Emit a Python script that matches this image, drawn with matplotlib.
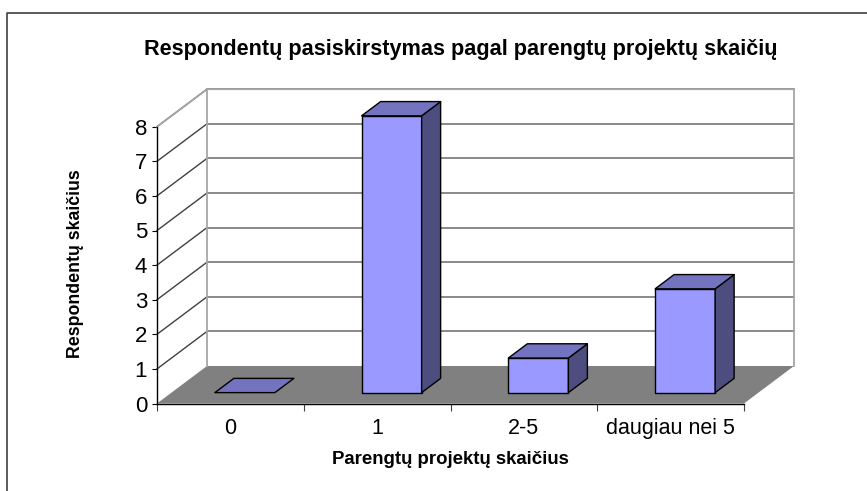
"""
Pseudo-3D column chart: respondents by number of prepared projects.
"""

import matplotlib
matplotlib.use("Agg")
import matplotlib.pyplot as plt
from matplotlib.patches import Polygon

W, H = 867, 491

categories = ["0", "1", "2-5", "daugiau nei 5"]
values = [0, 8, 1, 3]
y_ticks = [0, 1, 2, 3, 4, 5, 6, 7, 8]

title = "Respondentų pasiskirstymas pagal parengtų projektų skaičių"
xlabel = "Parengtų projektų skaičius"
ylabel = "Respondentų skaičius"

# ── oblique projection, in data units per full depth ─────────────────────────
AX_L, AX_R, AX_T, AX_B = 157, 744, 126.7, 403.5
DEPTH_X = 50 / ((AX_R - AX_L) / 4)
DEPTH_Y = 37.5 / ((AX_B - AX_T) / 8)

BAR_W = 60 / ((AX_R - AX_L) / 4)
BAR_D0, BAR_D1 = 0.29, 0.67     # bar spans this slice of the floor depth

FRONT, TOP, SIDE = "#9999ff", "#7373bf", "#4d4d80"
GRID = "#808080"

plt.rcParams["font.family"] = ["Liberation Sans", "DejaVu Sans"]

fig = plt.figure(figsize=(W / 100, H / 100), dpi=100)
ax = fig.add_axes([AX_L / W, 1 - AX_B / H, (AX_R - AX_L) / W, (AX_B - AX_T) / H])
ax.set_xlim(0, len(categories))
ax.set_ylim(0, y_ticks[-1])
ax.patch.set_visible(False)


def proj(x, y, d):
    return (x + d * DEPTH_X, y + d * DEPTH_Y)


def quad(pts, **kw):
    ax.add_patch(Polygon(pts, closed=True, clip_on=False, **kw))


# floor
n = len(categories)
quad([proj(0, 0, 0), proj(n, 0, 0), proj(n, 0, 1), proj(0, 0, 1)],
     facecolor="#808080", edgecolor="none", zorder=1)

# back wall, side wall, gridlines
ymax = y_ticks[-1]
for v in y_ticks[1:]:
    ax.plot([proj(0, v, 0)[0], proj(0, v, 1)[0]], [proj(0, v, 0)[1], proj(0, v, 1)[1]],
            color="#404040", lw=1.0, clip_on=False, zorder=2)
    ax.plot([proj(0, v, 1)[0], proj(n, v, 1)[0]], [proj(0, v, 1)[1], proj(n, v, 1)[1]],
            color=GRID, lw=1.3, clip_on=False, zorder=2)
ax.plot([proj(0, ymax, 0)[0], proj(0, ymax, 1)[0], proj(n, ymax, 1)[0], proj(n, 0, 1)[0]],
        [proj(0, ymax, 0)[1], proj(0, ymax, 1)[1], proj(n, ymax, 1)[1], proj(n, 0, 1)[1]],
        color="#a6a6a6", lw=1.3, clip_on=False, zorder=2)
ax.plot([proj(0, 0, 1)[0], proj(0, ymax, 1)[0]], [proj(0, 0, 1)[1], proj(0, ymax, 1)[1]],
        color="#a6a6a6", lw=1.3, clip_on=False, zorder=2)

# bars
for i, v in enumerate(values):
    x0 = i + 0.5 - BAR_W / 2
    x1 = x0 + BAR_W
    style = dict(edgecolor="black", lw=1.0, joinstyle="round", zorder=5)
    if v > 0:
        quad([proj(x0, 0, BAR_D0), proj(x1, 0, BAR_D0), proj(x1, v, BAR_D0), proj(x0, v, BAR_D0)],
             facecolor=FRONT, **style)
        quad([proj(x1, 0, BAR_D0), proj(x1, 0, BAR_D1), proj(x1, v, BAR_D1), proj(x1, v, BAR_D0)],
             facecolor=SIDE, **style)
    quad([proj(x0, v, BAR_D0), proj(x1, v, BAR_D0), proj(x1, v, BAR_D1), proj(x0, v, BAR_D1)],
         facecolor=TOP, **style)

# axes
for s in ("top", "right"):
    ax.spines[s].set_visible(False)
for s in ("left", "bottom"):
    ax.spines[s].set_linewidth(1.0)
    ax.spines[s].set_zorder(6)
ax.set_yticks(y_ticks)
ax.set_xticks(range(n + 1))
ax.set_xticklabels([])
ax.tick_params(axis="y", length=3.6, width=0.8, labelsize=16, pad=3.5)
ax.tick_params(axis="x", length=5, width=0.8, color="#404040")
for i, c in enumerate(categories):
    ax.annotate(c, (i + 0.5, 0), xytext=(0, -25), xycoords="data", textcoords="offset pixels",
                ha="center", va="center", fontsize=15.5)

fig.text(461 / W, 1 - 49 / H, title, ha="center", va="center", fontsize=15.6, fontweight="bold")
fig.text(450 / W, 1 - 459 / H, xlabel, ha="center", va="center", fontsize=13.4, fontweight="bold")
fig.text(76 / W, 1 - 264 / H, ylabel, ha="center", va="center", rotation=90, fontsize=12.8, fontweight="bold")

# chart frame, left and top edges
fig.add_artist(plt.Line2D([7 / W, 7 / W, 1], [0, 1 - 13 / H, 1 - 13 / H], color="#404040", lw=1.2))

fig.savefig("out.png", dpi=100)
